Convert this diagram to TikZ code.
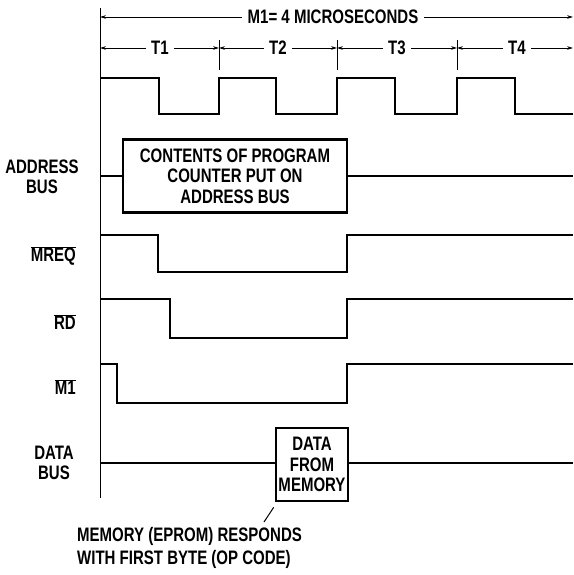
\documentclass[tikz,border=0pt]{standalone}
\usepackage{fontspec}
\setmainfont{Liberation Sans}[FakeStretch=0.77]
\usetikzlibrary{arrows.meta}
\begin{document}
\begin{tikzpicture}[x=1pt,y=-1pt,
  lbl/.style={font=\bfseries\fontsize{19.5}{20.5}\selectfont, inner sep=0pt, align=center},
  sig/.style={line width=2.6pt, line join=miter},
  busline/.style={line width=1.8pt},
  dimline/.style={line width=0.9pt, -{Stealth[length=6pt,width=3.6pt]}},
  tickline/.style={line width=0.9pt},
  sigbox/.style={draw, line width=2.6pt, inner sep=0pt, align=center, font=\bfseries\fontsize{19.5}{20.5}\selectfont}]
\useasboundingbox (0,0) rectangle (573,575);

% time axis
\coordinate (axtop) at (100,8);
\coordinate (axbot) at (100,498);
\draw[line width=1pt] (axtop) -- (axbot);

% M1 span
\node[lbl, outer xsep=6pt] (mone) at (333,17) {M1= 4 MICROSECONDS};
\coordinate (ml) at (100,17);
\coordinate (mr) at (573,17);
\draw[dimline] (mone) -- (ml);
\draw[dimline] (mone) -- (mr);

% T states
\coordinate (k0) at (100,48);
\coordinate (k1) at (219,48);
\coordinate (k2) at (337,48);
\coordinate (k3) at (457,48);
\coordinate (k4) at (573,48);
\foreach \x/\n in {219/1,337/2,457/3}{
  \coordinate (kt\n) at (\x,40);
  \coordinate (kb\n) at (\x,70);
  \draw[tickline] (kt\n) -- (kb\n);
}
\node[lbl, outer xsep=5pt] (t1) at (160,48) {T1};
\node[lbl, outer xsep=5pt] (t2) at (278,48) {T2};
\node[lbl, outer xsep=5pt] (t3) at (397,48) {T3};
\node[lbl, outer xsep=5pt] (t4) at (517,48) {T4};
\draw[dimline] (t1) -- (k0);
\draw[dimline] (t1) -- (k1);
\draw[dimline] (t2) -- (k1);
\draw[dimline] (t2) -- (k2);
\draw[dimline] (t3) -- (k2);
\draw[dimline] (t3) -- (k3);
\draw[dimline] (t4) -- (k3);
\draw[dimline] (t4) -- (k4);

% clock
\draw[sig] (100,78) -- (159,78) -- (159,114) -- (219,114) -- (219,78) -- (276,78) -- (276,114)
  -- (337,114) -- (337,78) -- (395,78) -- (395,114) -- (457,114) -- (457,78) -- (515,78)
  -- (515,114) -- (573,114);

% address bus
\node[lbl] (laddr) at (42,177) {ADDRESS\\BUS};
\node[sigbox, minimum width=224pt, minimum height=73pt] (abox) at (235,176)
  {CONTENTS OF PROGRAM\\COUNTER PUT ON\\ADDRESS BUS};
\coordinate (a0) at (100,176);
\coordinate (a1) at (573,176);
\draw[busline] (a0) -- (abox.west);
\draw[busline] (abox.east) -- (a1);

% MREQ
\node[lbl, anchor=east] (lmreq) at (76,256) {$\overline{\mbox{MREQ}}$};
\draw[sig] (100,235) -- (158,235) -- (158,272) -- (347,272) -- (347,235) -- (573,235);

% RD
\node[lbl, anchor=east] (lrd) at (76,322) {$\overline{\mbox{RD}}$};
\draw[sig] (100,299) -- (170,299) -- (170,338) -- (347,338) -- (347,299) -- (573,299);

% M1
\node[lbl, anchor=east] (lmone) at (76,387) {$\overline{\mbox{M1}}$};
\draw[sig] (100,364) -- (117,364) -- (117,403) -- (347,403) -- (347,364) -- (573,364);

% data bus
\node[lbl] (ldata) at (54,463) {DATA\\BUS};
\node[sigbox, minimum width=72pt, minimum height=73pt] (dbox) at (312,464.5)
  {DATA\\FROM\\MEMORY};
\coordinate (d0) at (100,463);
\coordinate (d1) at (573,463);
\draw[busline] (d0) -- (dbox.west |- d0);
\draw[busline] (dbox.east |- d1) -- (d1);

% note
\node[lbl, font=\bfseries\fontsize{19.5}{22.5}\selectfont, align=left, anchor=west] (note) at (77,548)
  {MEMORY (EPROM) RESPONDS\\WITH FIRST BYTE (OP CODE)};
\coordinate (lead) at (264,522);
\draw[line width=1pt] ([shift={(-1,5)}]dbox.south west) -- (lead);
\end{tikzpicture}
\end{document}
